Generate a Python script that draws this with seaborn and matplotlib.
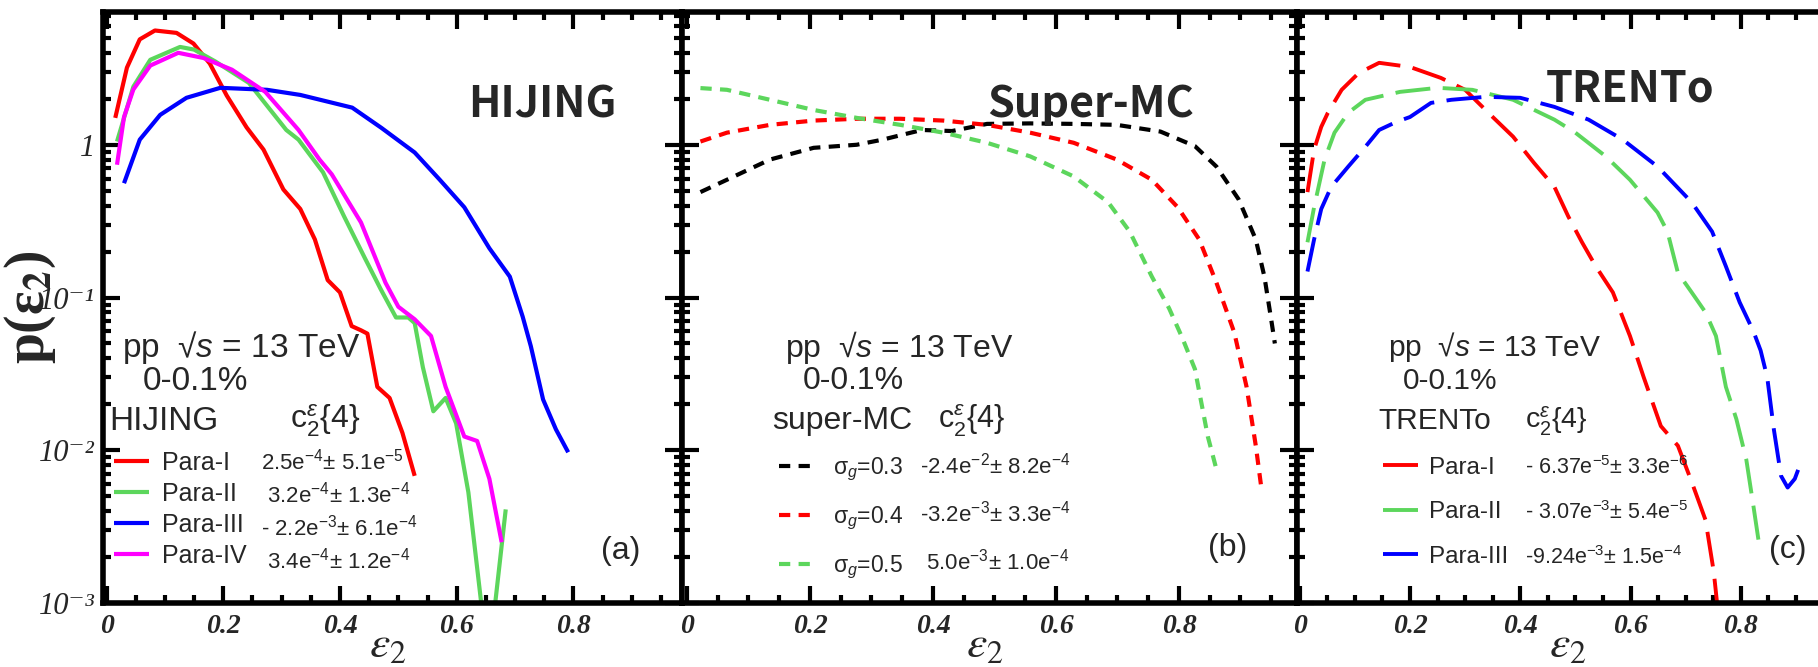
import matplotlib
matplotlib.use("Agg")
import matplotlib.pyplot as plt
import seaborn as sns
from matplotlib.ticker import LogLocator, NullFormatter, MultipleLocator
from matplotlib.lines import Line2D

# ---------------- data ----------------
# Panel (a) HIJING
a_red_x = [0.015, 0.035, 0.057, 0.083, 0.12, 0.149, 0.177, 0.206, 0.24, 0.269, 0.303, 0.332, 0.357, 0.379, 0.40, 0.42, 0.436, 0.447, 0.464, 0.485, 0.507, 0.528]
a_red_y = [1.5, 3.2, 4.9, 5.6, 5.4, 4.6, 3.4, 2.1, 1.3, 0.93, 0.51, 0.38, 0.24, 0.13, 0.108, 0.065, 0.061, 0.058, 0.026, 0.022, 0.013, 0.0068]
a_green_x = [0.018, 0.046, 0.075, 0.126, 0.15, 0.187, 0.244, 0.308, 0.329, 0.371, 0.407, 0.443, 0.47, 0.496, 0.517, 0.528, 0.542, 0.56, 0.581, 0.599, 0.62, 0.642, 0.655, 0.666, 0.684]
a_green_y = [1.05, 2.4, 3.6, 4.37, 4.2, 3.5, 2.54, 1.25, 1.08, 0.66, 0.34, 0.18, 0.113, 0.074, 0.074, 0.068, 0.035, 0.018, 0.022, 0.015, 0.0053, 0.001, 0.0006, 0.001, 0.0041]
a_blue_x = [0.03, 0.057, 0.092, 0.137, 0.195, 0.275, 0.332, 0.421, 0.471, 0.528, 0.571, 0.613, 0.656, 0.691, 0.713, 0.727, 0.748, 0.77, 0.791]
a_blue_y = [0.56, 1.08, 1.57, 2.03, 2.36, 2.29, 2.12, 1.75, 1.29, 0.89, 0.59, 0.39, 0.21, 0.137, 0.075, 0.048, 0.0215, 0.0137, 0.0097]
a_mag_x = [0.018, 0.03, 0.046, 0.075, 0.123, 0.166, 0.215, 0.272, 0.329, 0.365, 0.386, 0.436, 0.478, 0.50, 0.528, 0.556, 0.581, 0.613, 0.635, 0.656, 0.677]
a_mag_y = [0.74, 1.52, 2.3, 3.3, 4.0, 3.7, 3.1, 2.22, 1.25, 0.80, 0.64, 0.31, 0.125, 0.087, 0.072, 0.056, 0.026, 0.0123, 0.0115, 0.0065, 0.0025]
a_names = ["Para-I", "Para-II", "Para-III", "Para-IV"]
a_values = ["2.5e$^{-4}$± 5.1e$^{-5}$", " 3.2e$^{-4}$± 1.3e$^{-4}$",
            "- 2.2e$^{-3}$± 6.1e$^{-4}$", " 3.4e$^{-4}$± 1.2e$^{-4}$"]

# Panel (b) Super-MC
b_black_x = [0.022, 0.065, 0.135, 0.206, 0.276, 0.318, 0.382, 0.431, 0.488, 0.558, 0.629, 0.699, 0.77, 0.826, 0.861, 0.897, 0.925, 0.939, 0.95, 0.956]
b_black_y = [0.49, 0.59, 0.80, 0.955, 1.0, 1.08, 1.25, 1.23, 1.37, 1.38, 1.37, 1.35, 1.22, 0.98, 0.72, 0.44, 0.24, 0.137, 0.072, 0.05]
b_red_x = [0.022, 0.065, 0.135, 0.206, 0.276, 0.347, 0.417, 0.488, 0.558, 0.629, 0.699, 0.756, 0.798, 0.833, 0.861, 0.89, 0.91, 0.925, 0.935]
b_red_y = [1.05, 1.2, 1.35, 1.44, 1.48, 1.48, 1.44, 1.35, 1.2, 1.03, 0.80, 0.59, 0.39, 0.24, 0.125, 0.059, 0.026, 0.0107, 0.0053]
b_green_x = [0.022, 0.065, 0.135, 0.206, 0.276, 0.347, 0.417, 0.488, 0.558, 0.629, 0.685, 0.72, 0.756, 0.784, 0.805, 0.826, 0.847, 0.861]
b_green_y = [2.35, 2.29, 1.97, 1.69, 1.5, 1.35, 1.2, 1.03, 0.84, 0.62, 0.42, 0.27, 0.137, 0.085, 0.055, 0.034, 0.0123, 0.0075]
b_names = ["σ$_g$=0.3", "σ$_g$=0.4", "σ$_g$=0.5"]
b_values = ["-2.4e$^{-2}$± 8.2e$^{-4}$", "-3.2e$^{-3}$± 3.3e$^{-4}$", " 5.0e$^{-3}$± 1.0e$^{-4}$"]

# Panel (c) TRENTo
c_red_x = [0.014, 0.026, 0.039, 0.051, 0.076, 0.107, 0.144, 0.20, 0.256, 0.30, 0.35, 0.387, 0.425, 0.462, 0.487, 0.512, 0.537, 0.568, 0.599, 0.624, 0.655, 0.686, 0.711, 0.736, 0.751, 0.757, 0.765]
c_red_y = [0.49, 0.93, 1.31, 1.62, 2.29, 2.95, 3.44, 3.23, 2.74, 2.29, 1.52, 1.13, 0.76, 0.53, 0.34, 0.23, 0.16, 0.108, 0.056, 0.03, 0.0144, 0.0107, 0.0062, 0.0035, 0.0016, 0.001, 0.0007]
c_green_x = [0.014, 0.026, 0.045, 0.063, 0.088, 0.119, 0.182, 0.25, 0.313, 0.387, 0.462, 0.50, 0.555, 0.599, 0.649, 0.667, 0.686, 0.711, 0.736, 0.755, 0.773, 0.792, 0.81, 0.823, 0.832]
c_green_y = [0.23, 0.39, 0.8, 1.2, 1.62, 1.97, 2.22, 2.36, 2.29, 1.97, 1.46, 1.2, 0.84, 0.59, 0.36, 0.27, 0.145, 0.108, 0.08, 0.056, 0.026, 0.016, 0.0087, 0.0043, 0.0026]
c_blue_x = [0.014, 0.026, 0.039, 0.057, 0.088, 0.119, 0.144, 0.175, 0.20, 0.238, 0.275, 0.337, 0.40, 0.462, 0.524, 0.586, 0.649, 0.711, 0.748, 0.773, 0.798, 0.823, 0.836, 0.848, 0.86, 0.873, 0.885, 0.898, 0.91]
c_blue_y = [0.148, 0.24, 0.38, 0.53, 0.72, 0.97, 1.25, 1.41, 1.52, 1.88, 1.97, 2.06, 2.03, 1.77, 1.46, 1.08, 0.72, 0.42, 0.27, 0.16, 0.093, 0.06, 0.045, 0.03, 0.0137, 0.0068, 0.0057, 0.0065, 0.0085]
c_names = ["Para-I", "Para-II", "Para-III"]
c_values = ["- 6.37e$^{-5}$± 3.3e$^{-6}$", "- 3.07e$^{-3}$± 5.4e$^{-5}$", "-9.24e$^{-3}$± 1.5e$^{-4}$"]

x_major = [0, 0.2, 0.4, 0.6, 0.8]
x_labels = ["0", "0.2", "0.4", "0.6", "0.8"]
y_major = [1e-3, 1e-2, 1e-1, 1]
y_labels = ["10⁻³", "10⁻²", "10⁻¹", "1"]

RED, GREEN, BLUE, MAG, BLACK = "#ff0000", "#5cd65c", "#0000ff", "#ff00ff", "#000000"

# ---------------- style ----------------
sns.set_style("ticks")
plt.rcParams["font.family"] = ["Liberation Sans", "DejaVu Sans"]
plt.rcParams["mathtext.fontset"] = "custom"
plt.rcParams["mathtext.rm"] = "Liberation Sans"
plt.rcParams["mathtext.it"] = "Liberation Sans:italic"
plt.rcParams["mathtext.bf"] = "Liberation Sans:bold"

W, H = 1818, 667
fig = plt.figure(figsize=(W / 100, H / 100), dpi=100)
fig.patch.set_facecolor("white")

TOP, BOT = 12, 603


def add_ax(l, r):
    return fig.add_axes([l / W, (H - BOT) / H, (r - l) / W, (BOT - TOP) / H])


ax_a = add_ax(103, 682)
ax_b = add_ax(682, 1297)
ax_c = add_ax(1297, 1840)


def line(ax, x, y, color, lw, dashes=None):
    sns.lineplot(x=x, y=y, ax=ax, color=color, linewidth=lw, estimator=None, sort=False)
    ln = ax.lines[-1]
    if dashes is not None:
        ln.set_dashes(dashes)
    ln.set_solid_joinstyle("round")
    ln.set_dash_joinstyle("round")
    ln.set_solid_capstyle("butt")
    ln.set_dash_capstyle("butt")
    return ln


la = [line(ax_a, a_red_x, a_red_y, RED, 3.0),
      line(ax_a, a_green_x, a_green_y, GREEN, 3.0),
      line(ax_a, a_blue_x, a_blue_y, BLUE, 3.0),
      line(ax_a, a_mag_x, a_mag_y, MAG, 3.0)]
lb = [line(ax_b, b_black_x, b_black_y, BLACK, 3.0, (2.7, 2.0)),
      line(ax_b, b_red_x, b_red_y, RED, 3.0, (2.7, 2.0)),
      line(ax_b, b_green_x, b_green_y, GREEN, 3.0, (2.7, 2.0))]
lc = [line(ax_c, c_red_x, c_red_y, RED, 2.8, (9, 3.2)),
      line(ax_c, c_green_x, c_green_y, GREEN, 2.8, (9, 3.2)),
      line(ax_c, c_blue_x, c_blue_y, BLUE, 2.8, (9, 3.2))]

xlims = {ax_a: (-0.006, 0.986), ax_b: (-0.008, 0.992), ax_c: (-0.005, 0.98)}
for ax in (ax_a, ax_b, ax_c):
    ax.set_yscale("log")
    ax.set_ylim(1e-3, 7.4)
    ax.set_xlim(*xlims[ax])
    ax.set_xlabel("")
    ax.set_ylabel("")
    for s in ax.spines.values():
        s.set_visible(True)
        s.set_linewidth(4)
        s.set_color("black")
    ax.set_xticks(x_major, x_labels)
    ax.xaxis.set_minor_locator(MultipleLocator(0.05))
    ax.yaxis.set_major_locator(LogLocator(base=10, numticks=10))
    ax.yaxis.set_minor_locator(LogLocator(base=10, subs=range(2, 10), numticks=20))
    ax.yaxis.set_minor_formatter(NullFormatter())
    ax.tick_params(which="both", direction="in", top=True, right=True, color="black", width=3)
    ax.tick_params(which="major", length=12)
    ax.tick_params(which="minor", length=6)
    ax.tick_params(axis="x", which="major", labelsize=20, pad=8)
    for t in ax.get_xticklabels():
        t.set_fontfamily(["Liberation Serif", "DejaVu Serif"])
        t.set_fontstyle("italic")
        t.set_fontweight("bold")
    ax.set_xlabel(r"$\varepsilon_2$", fontsize=33, math_fontfamily="stix")
    ax.xaxis.label.set_va("center")

ax_a.set_yticks(y_major, y_labels)
ax_a.tick_params(axis="y", which="major", labelsize=22, pad=6)
for t in ax_a.get_yticklabels():
    t.set_fontfamily(["Liberation Serif", "DejaVu Serif"])
    t.set_fontstyle("italic")
ax_b.tick_params(axis="y", which="both", labelleft=False)
ax_c.tick_params(axis="y", which="both", labelleft=False)

ax_a.xaxis.set_label_coords((388 - 103) / 579, (BOT - 645) / 591)
ax_b.xaxis.set_label_coords((985 - 682) / 615, (BOT - 645) / 591)
ax_c.xaxis.set_label_coords((1568 - 1297) / 543, (BOT - 645) / 591)

ax_a.set_ylabel(r"p(ε$_{\mathbf{2}}$)", fontsize=40, fontfamily="Liberation Serif",
                fontweight="bold", math_fontfamily="stix")
ax_a.yaxis.set_label_coords((30 - 103) / 579, (BOT - 307) / 591)
ax_a.yaxis.label.set_va("center")


# ---------------- annotations ----------------
def ftext(px, py, s, **kw):
    kw.setdefault("ha", "left")
    kw.setdefault("va", "center")
    return fig.text(px / W, 1 - py / H, s, **kw)


big = dict(fontfamily=["Noto Sans CJK SC", "DejaVu Sans"], fontweight="bold", fontsize=31)
ftext(468, 104, "HIJING", **big)
ftext(987, 104, "Super-MC", **big)
ftext(1546, 89, "TRENTo", **big)

# (pp-line x, %-line x, header name, header x, c2 x, fontsize)
blocks = [(122, 143, "HIJING", 109, 290, 24),
          (785, 803, "super-MC", 772, 938, 23),
          (1388, 1403, "TRENTo", 1378, 1525, 21.5)]
for x0, x1, name, xn, xc, fsz in blocks:
    ftext(x0, 347, "pp  √$s$ = 13 TeV", fontsize=fsz)
    ftext(x1, 381, "0-0.1%", fontsize=fsz)
    ftext(xn, 421, name, fontsize=fsz)
    ftext(xc, 421, "c$_2^{ε}${4}", fontsize=fsz - 1)

ftext(601, 551, "(a)", fontsize=23)
ftext(1208, 548, "(b)", fontsize=23)
ftext(1769, 550, "(c)", fontsize=23)


# ---------------- legends ----------------
def legend(ax, handles, names, values, px, py, fs, vfs, hl, htp, ls, value_x):
    blank = [Line2D([], [], alpha=0)] * len(values)

    def make(cs):
        leg = ax.legend(handles=list(handles) + blank, labels=list(names) + list(values),
                        ncol=2, loc="upper left", bbox_to_anchor=(px / W, 1 - py / H),
                        bbox_transform=fig.transFigure, frameon=False, fontsize=fs,
                        handlelength=hl, handletextpad=htp, labelspacing=ls,
                        columnspacing=cs, borderpad=0, borderaxespad=0)
        for t in leg.get_texts()[len(names):]:
            t.set_fontsize(vfs)
        return leg

    leg = make(0.0)
    fig.canvas.draw()
    r = fig.canvas.get_renderer()
    vx = leg.get_texts()[len(names)].get_window_extent(r).x0
    cs = (value_x - vx) / (fs * 100 / 72)
    return make(cs)


legend(ax_a, la, a_names, a_values, 114, 449, 18, 16, 1.4, 0.52, 0.28, 261)
legend(ax_b, lb, b_names, b_values, 779, 453, 16.5, 16, 1.4, 0.97, 0.95, 920)
legend(ax_c, lc, c_names, c_values, 1383, 456, 17.5, 15.5, 1.48, 0.41, 0.92, 1525)

fig.savefig("out.png", dpi=100, facecolor="white")
